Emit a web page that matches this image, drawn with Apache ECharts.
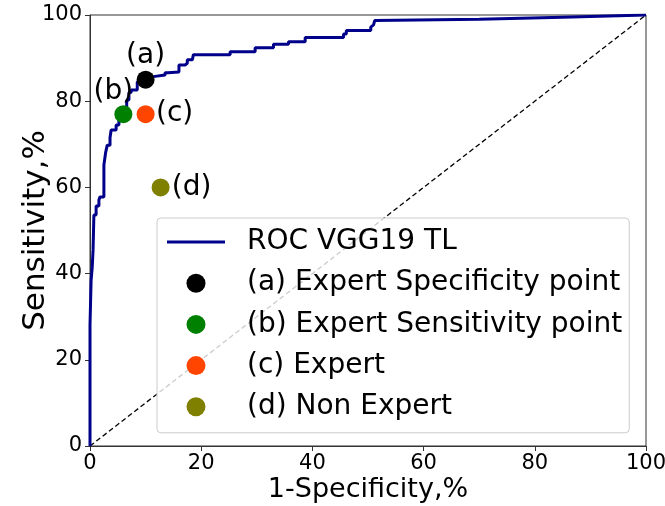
<!DOCTYPE html>
<html>
<head>
<meta charset="utf-8">
<script src="https://cdn.jsdelivr.net/npm/echarts@6/dist/echarts.min.js"></script>
<style>
  html, body { margin: 0; padding: 0; background: #fff; }
  #chart { width: 665px; height: 506px; }
</style>
</head>
<body>
<div id="chart"></div>
<script>
// ROC curve of the VGG19 transfer-learning model: [1-specificity %, sensitivity %]
const rocPoints = [
  [0, 0], [0, 28], [0.2, 28], [0.2, 38.5], [0.4, 38.5], [0.4, 41.5],
  [0.55, 41.5], [0.55, 45.5], [0.7, 45.5], [0.7, 53.6], [1.1, 53.6],
  [1.1, 55.7], [1.6, 55.7], [1.6, 57.1], [1.8, 57.1], [1.8, 57.8],
  [2.5, 57.8], [2.5, 65.2], [2.8, 65.2], [2.8, 68], [3.1, 68], [3.1, 69.8],
  [3.6, 69.8], [3.6, 71.5], [3.8, 71.5], [3.8, 73.3], [4.7, 73.3],
  [4.7, 74.5], [5.2, 74.5], [5.2, 76], [6, 76], [6, 78], [6.6, 78],
  [6.6, 80.3], [7.0, 80.3], [7.0, 82], [7.4, 82], [7.4, 82.6], [8.5, 82.6],
  [8.5, 84.5], [9.5, 84.5], [9.5, 85.7], [11.4, 85.7], [11.4, 86.1],
  [13.5, 86.1], [13.5, 86.6], [14, 86.6], [14, 86.8], [16, 86.8],
  [16, 88.4], [17.1, 88.4], [17.1, 88.8], [17.5, 88.8], [17.5, 89.6],
  [18.4, 89.6], [18.4, 90], [18.6, 90], [18.6, 90.8], [25.2, 90.8],
  [25.2, 91.5], [29.7, 91.5], [29.7, 92.4], [33, 92.4], [33, 93.2],
  [35.7, 93.2], [35.7, 93.8], [38.7, 93.8], [38.7, 94.8], [45.6, 94.8],
  [45.6, 95.6], [46.1, 95.6], [46.1, 96.4], [50.5, 96.4], [50.5, 97.2],
  [51, 97.7], [51.2, 98.7], [70, 99], [85, 99.5], [100, 100]
];

// Chance diagonal
const chancePoints = [[0, 0], [100, 100]];

// Reader operating points: [1-specificity %, sensitivity %]
const pointA = [10, 85];    // Expert specificity point
const pointB = [6, 77];     // Expert sensitivity point
const pointC = [10, 77];    // Expert
const pointD = [12.7, 60];  // Non expert

const seriesNames = [
  'ROC VGG19 TL',
  '(a) Expert Specificity point',
  '(b) Expert Sensitivity point',
  '(c) Expert',
  '(d) Non Expert'
];
const pointTags = ['(a)', '(b)', '(c)', '(d)'];

const axisTicks = [0, 20, 40, 60, 80, 100];

const FONT = 'DejaVu Sans';

function pointSeries(name, pt, color, tag, offset) {
  return {
    name: name,
    type: 'scatter',
    data: [pt],
    symbol: 'circle',
    symbolSize: 18,
    itemStyle: { color: color, opacity: 1 },
    z: 5,
    label: {
      show: true,
      formatter: tag,
      position: 'inside',
      offset: offset,
      color: '#000',
      fontFamily: FONT,
      fontSize: 28
    },
    emphasis: { disabled: true }
  };
}

const chart = echarts.init(document.getElementById('chart'), null, { renderer: 'canvas' });

chart.setOption({
  animation: false,
  backgroundColor: '#fff',
  grid: {
    left: 90, right: 19, top: 15, bottom: 60,
    containLabel: false, outerBoundsMode: 'none',
    show: true, borderColor: '#333', borderWidth: 1, backgroundColor: 'transparent'
  },
  xAxis: {
    type: 'value', min: axisTicks[0], max: axisTicks[axisTicks.length - 1], interval: 20,
    name: '1-Specificity,%', nameLocation: 'middle', nameGap: 30, nameMoveOverlap: false,
    nameTextStyle: { fontFamily: FONT, fontSize: 27, color: '#000' },
    axisLine: { show: true, lineStyle: { color: '#333', width: 1 } },
    axisTick: { show: true, inside: false, length: 5, lineStyle: { color: '#333' } },
    axisLabel: { fontFamily: FONT, fontSize: 21, color: '#000', margin: 7 },
    splitLine: { show: false }
  },
  yAxis: {
    type: 'value', min: axisTicks[0], max: axisTicks[axisTicks.length - 1], interval: 20,
    name: 'Sensitivity,%', nameLocation: 'middle', nameGap: 39, nameMoveOverlap: false,
    nameTextStyle: { fontFamily: FONT, fontSize: 31, color: '#000' },
    axisLine: { show: true, lineStyle: { color: '#333', width: 1 } },
    axisTick: { show: true, inside: false, length: 5, lineStyle: { color: '#333' } },
    axisLabel: { fontFamily: FONT, fontSize: 21, color: '#000', margin: 8 },
    splitLine: { show: false }
  },
  legend: {
    data: [
      { name: seriesNames[0], icon: 'path://M0,0L58,0L58,3L0,3Z' },
      seriesNames[1], seriesNames[2], seriesNames[3], seriesNames[4]
    ],
    orient: 'vertical',
    left: 157, top: 218,
    padding: [10, 7, 12, 10],
    itemWidth: 58, itemHeight: 19, itemGap: 13.2,
    backgroundColor: 'rgba(255,255,255,0.8)',
    borderColor: '#cccccc', borderWidth: 1, borderRadius: 4,
    selectedMode: false,
    textStyle: { fontFamily: FONT, fontSize: 28, color: '#000', lineHeight: 26, padding: [0, 0, 0, 17] }
  },
  series: [
    {
      name: 'chance',
      type: 'line',
      data: chancePoints,
      symbol: 'none',
      lineStyle: { color: '#000', width: 1.3, type: [5, 3] },
      z: 1,
      silent: true
    },
    {
      name: seriesNames[0],
      type: 'line',
      data: rocPoints,
      symbol: 'none',
      symbolKeepAspect: true,
      lineStyle: { color: '#00008B', width: 3 },
      itemStyle: { color: '#00008B' },
      z: 3,
      silent: true
    },
    pointSeries(seriesNames[1], pointA, '#000000', pointTags[0], [0, -24]),
    pointSeries(seriesNames[2], pointB, '#008000', pointTags[1], [-10, -22]),
    pointSeries(seriesNames[3], pointC, '#FF4500', pointTags[2], [29, 0]),
    pointSeries(seriesNames[4], pointD, '#808000', pointTags[3], [31, 0])
  ]
});
</script>
</body>
</html>
